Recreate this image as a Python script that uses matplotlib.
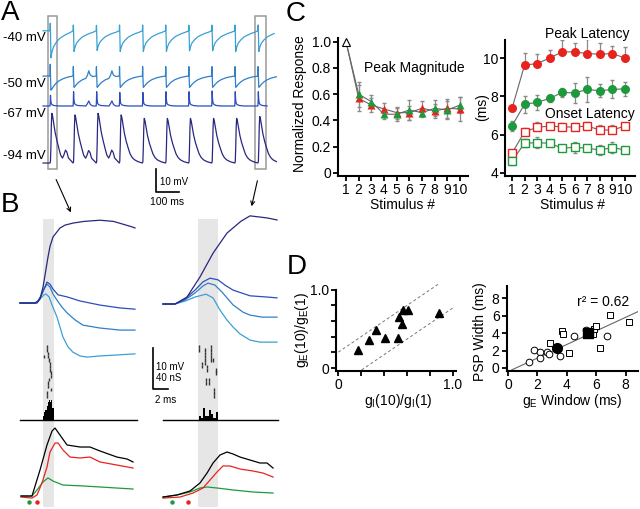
import matplotlib
matplotlib.use('Agg')
import matplotlib.pyplot as plt
from matplotlib.patches import Rectangle, FancyArrowPatch
import numpy as np

plt.rcParams['font.family'] = ['Liberation Sans', 'DejaVu Sans']
plt.rcParams['mathtext.default'] = 'regular'

W, H = 640, 509

# ---------------- A: stimulus trains at four holding potentials ----------------
hold_labels = ['-40 mV', '-50 mV', '-67 mV', '-94 mV']
hold_colors = ['#3aa0d4', '#2f80c8', '#2b4dbd', '#27287f']
a_offsets = [61.4, 41.7, 28.7, 3.9]          # mV, stacking of the traces
n_stim, stim_period, t_start, t_end = 10, 100, -30, 983

# PSP shape after each stimulus (ms, mV)
psp_40 = [(0, 0), (1, 2.5), (2, 0), (4, -9.0), (8, -7.2), (15, -5.4), (26, -4.0),
          (40, -2.7), (55, -1.9), (70, -1.2), (85, -0.7), (100, 0)]
psp_50 = [(0, 0), (1, 4.1), (2, 0.5), (4, -4.9), (8, -4.5), (15, -3.6), (25, -2.6),
          (40, -1.6), (60, -0.8), (80, -0.3), (100, 0)]
psp_50b = [(0, 0), (1, 4.1), (2, 0.5), (4, -4.9), (8, -4.5), (15, -3.6), (25, -2.6),
           (40, -1.6), (55, -1.0), (62, 0.3), (68, 2.3), (74, 0.5), (85, -0.2), (100, 0)]
psp_67 = [(0, 0), (1, 2.0), (2, 6.2), (3.5, 3.0), (6, 1.2), (10, 0.6), (20, 0.2),
          (40, 0), (100, 0)]
psp_67b = [(0, 0), (1, 2.0), (2, 6.2), (3.5, 3.0), (6, 1.2), (10, 0.6), (20, 0.2),
           (55, 0), (62, 1.0), (68, 2.2), (75, 0.6), (85, 0), (100, 0)]
psp_94 = [(0, 0), (2, 0.03), (4, 0.35), (6, 0.8), (8, 1.0), (11, 0.95), (16, 0.8),
          (22, 0.62), (30, 0.45), (38, 0.32), (46, 0.2), (55, 0.12), (65, 0.07),
          (80, 0.03), (100, 0)]
psp_94b = [(0, 0), (2, 0.03), (4, 0.35), (6, 0.8), (8, 1.0), (11, 0.95), (16, 0.8),
           (22, 0.62), (30, 0.45), (38, 0.3), (46, 0.16), (54, 0.1), (60, 0.16),
           (67, 0.26), (73, 0.22), (80, 0.1), (88, 0.06), (100, 0)]
scale_40 = [1.3, 1.0, 0.95, 1.0, 1.0, 1.0, 0.97, 0.97, 1.0, 1.0]
scale_50 = [1.25, 1, 1, 1, 1, 1, 1, 1, 1, 1]
scale_67 = [0.75, 1, 1, 0.95, 0.95, 1, 1, 1.05, 1, 1]
amp_94 = [21.6, 20.9, 21.6, 20.9, 19.4, 19.4, 19.4, 19.4, 19.4, 20.2]

# ---------------- B: single responses, first vs last stimulus ----------------
# depolarising traces (ms, mV deflection), left = stimulus 1, right = stimulus 10
bl_t = [[0, 2, 2.4, 2.8, 3.2, 3.47, 3.87, 4.27, 4.93, 5.73, 6.4, 7.07, 8.0, 8.93, 10.67, 12.67, 15.33],
        [0, 2, 2.4, 2.8, 3.2, 3.6, 4.0, 4.4, 4.93, 5.6, 6.27, 7.33, 8.4, 10.67, 13.33, 15.33],
        [0, 2, 2.4, 2.8, 3.2, 3.6, 4.0, 4.4, 5.07, 6.27, 8.0, 10.67, 13.33, 15.33],
        [0, 2.27, 2.67, 3.07, 3.4, 3.73, 4.0, 4.4, 5.33, 6.0, 7.07, 8.5, 10.67, 12.5, 15.07, 15.33]]
bl_v = [[0, 0, 0.5, 1.2, 2.0, 2.2, 1.5, -0.5, -3.4, -8.3, -10.7, -12.0, -12.9, -13.2, -12.9, -12.7, -12.4],
        [0, 0, 0.5, 1.7, 3.4, 4.6, 3.9, 2.2, 0.7, -1.0, -2.4, -4.1, -5.4, -6.1, -6.6, -6.6],
        [0, 0, 0.5, 1.7, 3.4, 5.1, 4.6, 3.4, 2.0, 1.5, 0.5, -0.5, -1.2, -1.5],
        [0, 0, 1.0, 3.9, 7.5, 11.2, 13.8, 16.1, 18.3, 19.0, 19.5, 19.9, 20.2, 19.9, 18.5, 18.3]]
br_t = [[0, 1.6, 2.93, 4.27, 5.73, 6.67, 7.6, 8.53, 9.33, 10.27, 11.6, 12.93, 15.2],
        [0, 1.6, 2.93, 4.27, 5.33, 6.0, 6.93, 7.87, 9.33, 10.67, 11.6, 13.2, 15.2],
        [0, 1.6, 2.93, 4.27, 5.33, 6.27, 7.33, 8.27, 9.33, 11.6, 13.87, 15.2],
        [0, 1.6, 3.2, 4.93, 6.67, 8.53, 10.4, 11.6, 13.87, 15.2]]
br_v = [[0, 0, 0.7, 1.7, 2.4, 1.5, -1.5, -3.9, -5.6, -7.3, -8.8, -9.3, -9.3],
        [0, 0, 1.0, 2.7, 4.4, 5.1, 4.6, 2.9, -0.2, -2.0, -2.7, -3.2, -3.2],
        [0, 0, 1.2, 3.4, 5.4, 6.3, 5.9, 4.6, 3.4, 2.0, 1.7, 1.5],
        [0, 0, 1.7, 6.6, 12.4, 17.3, 20.2, 21.5, 21.0, 20.5]]

# spike raster rows (ms) and histogram counts
raster_l = [[3.6], [3.65], [3.7], [3.15, 3.7], [3.9], [4.0], [4.0], [4.05], [4.1],
            [4.1], [3.85], [3.8], [3.75], [4.2], [3.65], [3.6]]
raster_r = [[4.84, 6.36], [4.84, 5.6, 6.36], [5.6, 6.36], [5.6, 6.36], [5.6, 6.36, 6.62],
            [5.16, 5.6], [5.16, 5.91], [5.91, 7.07], [7.07], [], [5.73, 6.17],
            [5.73, 6.17], [], [6.8], [6.8], [6.85]]
hist_l_start, hist_l_width = 3.1, 0.15
hist_l = [2, 4, 5, 7, 9, 10, 9, 10, 6, 6]
hist_r_start, hist_r_width = 4.84, 0.27
hist_r = [2, 1, 6, 2, 2, 5, 3, 1, 4]

# conductances (ms, nS): total, inhibitory, excitatory
gl_t = [[0.13, 1.6, 2.67, 3.6, 4.27, 4.67, 5.33, 6.27, 8.0, 9.33, 10.67, 12.93, 14.27, 15.07],
        [0.13, 1.6, 2.27, 2.93, 3.6, 4.0, 4.67, 5.07, 5.73, 6.67, 8.0, 9.33, 10.67, 12.93, 15.07],
        [0.13, 1.6, 2.27, 3.07, 3.73, 4.4, 5.73, 8.4, 10.67, 15.07]]
gl_v = [[0, 0, 25.4, 49.8, 63.4, 66.3, 59.5, 49.8, 47.8, 47.8, 43.9, 38.0, 36.1, 33.2],
        [-1, -2, 1, 12.7, 28.3, 42.9, 51.7, 51.7, 44.9, 38.0, 37.1, 38.0, 33.2, 30.2, 27.3],
        [0, 0, 5.9, 13.7, 17.6, 14.6, 10.7, 9.8, 8.8, 6.8]]
gr_t = [[0, 1.87, 3.6, 4.93, 5.87, 6.67, 7.6, 8.53, 9.33, 10.27, 11.6, 12.93, 13.87, 14.67],
        [0, 2.27, 4.0, 5.33, 6.27, 7.2, 8.0, 8.93, 10.27, 12.0, 13.33, 14.67],
        [0, 1.87, 3.6, 4.93, 5.87, 7.2, 9.33, 12.0, 14.67]]
gr_v = [[-1, 1, 4.9, 12.7, 22.4, 32.2, 40.0, 42.9, 41.0, 38.0, 35.1, 32.2, 32.2, 27.3],
        [-2, -1, 2.9, 7.8, 15.6, 23.4, 29.3, 29.3, 26.3, 24.4, 22.4, 18.5],
        [-1, 1, 3.9, 7.8, 8.8, 7.8, 5.9, 3.9, 2.9]]
g_colors = ['black', '#e8231e', '#1c9a3c']
onset_l = [1.2, 2.27]    # green / red onset dots
onset_r = [1.2, 3.33]
window_l = [3.07, 4.53]
window_r = [4.67, 7.33]

# ---------------- C: responses across the train ----------------
stim = np.arange(1, 11)
mag_red = [1.0, 0.568, 0.517, 0.487, 0.459, 0.459, 0.492, 0.472, 0.492, 0.487]
mag_red_err = [0, 0.10, 0.05, 0.048, 0.045, 0.054, 0.053, 0.054, 0.07, 0.094]
mag_green = [1.0, 0.599, 0.543, 0.447, 0.447, 0.479, 0.459, 0.492, 0.479, 0.517]
mag_green_err = [0, 0.096, 0.05, 0.037, 0.05, 0.074, 0.033, 0.06, 0.07, 0.059]

peak_red = [7.37, 9.63, 9.71, 10.0, 10.32, 10.32, 10.23, 10.2, 10.23, 10.0]
peak_red_err = [0.1, 0.64, 0.52, 0.44, 0.61, 0.44, 0.78, 0.56, 0.4, 0.58]
peak_green = [6.46, 7.59, 7.68, 7.89, 8.2, 8.18, 8.36, 8.29, 8.36, 8.39]
peak_green_err = [0.26, 0.45, 0.4, 0.2, 0.26, 0.52, 0.65, 0.35, 0.47, 0.38]
onset_red = [5.03, 6.15, 6.38, 6.45, 6.40, 6.40, 6.45, 6.24, 6.24, 6.45]
onset_red_err = [0.17, 0.21, 0.29, 0.17, 0.22, 0.19, 0.22, 0.26, 0.26, 0.14]
onset_green = [4.63, 5.55, 5.58, 5.55, 5.29, 5.34, 5.29, 5.2, 5.32, 5.2]
onset_green_err = [0.21, 0.21, 0.3, 0.1, 0.12, 0.28, 0.1, 0.26, 0.29, 0.08]

# ---------------- D: population ----------------
gi_ratio = [0.171, 0.27, 0.328, 0.409, 0.519, 0.53, 0.557, 0.568, 0.609, 0.878]
ge_ratio = [0.23, 0.36, 0.487, 0.38, 0.38, 0.65, 0.56, 0.74, 0.74, 0.70]
band_offsets = [0.2, -0.23]

circ_x = [1.45, 1.77, 2.18, 2.18, 2.67, 2.77, 3.54, 4.49, 5.28, 6.76]
circ_y = [0.73, 2.07, 1.8, 1.11, 1.88, 1.57, 1.38, 3.72, 4.37, 3.72]
sq_x = [2.86, 3.65, 3.76, 4.17, 5.8, 5.87, 5.96, 6.26, 6.94, 8.25]
sq_y = [2.84, 4.25, 3.87, 1.76, 3.91, 4.45, 4.86, 2.26, 6.09, 5.25]
ex_circ = (3.31, 2.26)
ex_sq = (5.42, 3.98)
fit_x = [0.25, 8.86]
fit_y = [-0.23, 6.47]

red, green = '#e8231e', '#1c9a3c'

fig = plt.figure(figsize=(6.4, 5.09), dpi=100)


def px_axes(x0, y0, x1, y1):
    return fig.add_axes([x0 / W, 1 - y1 / H, (x1 - x0) / W, (y1 - y0) / H])


def ftext(x, y, s, **kw):
    fig.text(x / W, 1 - y / H, s, **kw)


# ---- A ----
axA = px_axes(20, 5, 280, 205)
axA.set_xlim(-129.9, 995.7)
axA.set_ylim(-14.35, 72.6)
axA.axis('off')
shapes = [(psp_40, psp_40, (), scale_40), (psp_50, psp_50b, (1, 2), scale_50),
          (psp_67, psp_67b, (1, 2), scale_67), (psp_94, psp_94b, (0, 1, 2), amp_94)]
for i, (shp, shp_b, bumpy, sc) in enumerate(shapes):
    t, v = [t_start], [0.0]
    for k in range(n_stim):
        for dt, dv in (shp_b if k in bumpy else shp):
            if k * stim_period + dt <= t_end:
                t.append(k * stim_period + dt)
                v.append(dv * sc[k])
    axA.plot(t, np.array(v) + a_offsets[i], color=hold_colors[i], lw=0.9)
for x0, x1 in [(-8.7, 30.3), (887, 935)]:
    axA.add_patch(Rectangle((x0, 1.3), x1 - x0, 66.5, fill=False, ec='#9a9a9a', lw=1.1))
axA.plot([459, 459, 559], [1.3, -8.7, -8.7], color='black', lw=1.2)
axA.text(476, -4.5, '10 mV', fontsize=7, va='center')
axA.text(505, -13.2, '100 ms', fontsize=7.5, ha='center', va='center')

for lab, y in zip(hold_labels, [38, 84, 114, 156]):
    ftext(46, y, lab, fontsize=9.5, ha='right', va='center')

# ---- B ----
axBL = px_axes(10, 205, 160, 509)
axBR = px_axes(160, 205, 290, 509)
axBL.set_xlim(-1.333, 18.667)
axBR.set_xlim(-0.4, 16.93)
cols = [(axBL, bl_t, bl_v, 50.24, raster_l, hist_l_start, hist_l_width, hist_l,
         gl_t, gl_v, onset_l, window_l, 15.6),
        (axBR, br_t, br_v, 50.0, raster_r, hist_r_start, hist_r_width, hist_r,
         gr_t, gr_v, onset_r, window_r, 15.33)]
for ax, tt, vv, base, rast, h0, hw, hc, gt, gv, ons, win, tmax in cols:
    ax.set_ylim(0, 74.15)
    ax.axis('off')
    ax.axvspan(win[0], win[1], ymin=0.007, ymax=0.955, color='#e6e6e6', lw=0, zorder=0)
    for i in range(4):
        ax.plot(tt[i], np.array(vv[i]) + base, color=hold_colors[i], lw=0.9)
    for r, times in enumerate(rast):
        ytop = (509 - (345 + r * 3.3)) / 4.1
        ax.vlines(times, ytop - 0.85, ytop, color='#333333', lw=1.0)
    edges = h0 + hw * np.arange(len(hc))
    ax.bar(edges, np.array(hc) * 2 / 4.1, width=hw, bottom=21.7, align='edge',
           color='black', lw=0)
    ax.plot([0, tmax], [21.7, 21.7], color='black', lw=1.0)
    for i in [2, 1, 0]:
        ax.plot(gt[i], np.array(gv[i]) / 4 + 3.17, color=g_colors[i], lw=0.9)
    ax.plot(ons[0], 1.71, 'o', color=green, ms=3.2, mec='none')
    ax.plot(ons[1], 1.71, 'o', color=red, ms=3.2, mec='none')

# B scale bar (10 mV / 40 nS, 2 ms)
axBL.plot([17.73, 17.73, 19.73], [39.27, 29.27, 29.27], color='black', lw=1.2,
          clip_on=False)
ftext(156, 367, '10 mV', fontsize=7, va='center')
ftext(156, 378, '40 nS', fontsize=7, va='center')
ftext(155, 400, '2 ms', fontsize=7, va='center')

for a, b in [((55, 177), (72, 215)), ((258, 178), (251, 209))]:
    fig.add_artist(FancyArrowPatch((a[0] / W, 1 - a[1] / H), (b[0] / W, 1 - b[1] / H),
                                   transform=fig.transFigure, arrowstyle='->',
                                   mutation_scale=7, lw=0.8, color='black'))


def style(ax):
    for s in ['top', 'right']:
        ax.spines[s].set_visible(False)
    for s in ['left', 'bottom']:
        ax.spines[s].set_linewidth(1.5)
    ax.tick_params(width=1.3, length=3.5, labelsize=10, pad=1.5)


# ---- C left: magnitude ----
axC1 = px_axes(338, 37.6, 468, 175.6)
style(axC1)
for vals, err, col in [(mag_red, mag_red_err, red), (mag_green, mag_green_err, green)]:
    axC1.errorbar(stim[1:], vals[1:], yerr=err[1:], fmt='none', ecolor='#8a8a8a',
                  elinewidth=0.9, capsize=1.2, zorder=1)
    axC1.plot(stim, vals, color='#666666', lw=0.8, zorder=2)
    axC1.plot(stim[1:], vals[1:], '^', color=col, ms=6, mec='none', zorder=3)
axC1.plot(1, 1.0, '^', mfc='white', mec='black', mew=0.8, ms=6, zorder=4)
axC1.set_xlim(0.37, 10.63)
axC1.set_ylim(-0.02, 1.03)
axC1.set_xticks(stim)
axC1.set_yticks([0, 0.2, 0.4, 0.6, 0.8, 1.0])
axC1.set_yticklabels(['0', '0.2', '0.4', '0.6', '0.8', '1.0'])
axC1.text(6.4, 0.80, 'Peak Magnitude', fontsize=10, ha='center', va='center')
ftext(403, 205, 'Stimulus #', fontsize=10, ha='center', va='center')
ftext(300, 104, 'Normalized Response', fontsize=10, ha='center', va='center',
      rotation=90)

# ---- C right: latency ----
axC2 = px_axes(505, 40, 635, 176)
style(axC2)
series = [(peak_red, peak_red_err, red, 'o', True, (np.zeros(10), peak_red_err)),
          (peak_green, peak_green_err, green, 'o', True, None),
          (onset_red, onset_red_err, red, 's', False, (np.zeros(10), onset_red_err)),
          (onset_green, onset_green_err, green, 's', False, None)]
for vals, err, col, mk, filled, asym in series:
    axC2.errorbar(stim, vals, yerr=asym if asym is not None else err, fmt='none',
                  ecolor='#8a8a8a', elinewidth=0.9, capsize=1.2, zorder=1)
    axC2.plot(stim, vals, color='#666666', lw=0.8, zorder=2)
    if filled:
        axC2.plot(stim, vals, mk, color=col, ms=6.5, mec='none', zorder=3)
    else:
        axC2.plot(stim, vals, mk, mfc='white', mec=col, mew=1.0, ms=5.5, zorder=3)
axC2.set_xlim(0.44, 10.8)
axC2.set_ylim(3.84, 10.94)
axC2.set_xticks(stim)
axC2.set_yticks([4, 6, 8, 10])
ftext(587, 34, 'Peak Latency', fontsize=10, ha='center', va='center')
ftext(590, 114, 'Onset Latency', fontsize=10, ha='center', va='center')
ftext(572, 205, 'Stimulus #', fontsize=10, ha='center', va='center')
ftext(482, 107, '(ms)', fontsize=10, ha='center', va='center', rotation=90)

# ---- D left: gE vs gI depression ----
axD1 = px_axes(336, 282, 456, 371)
style(axD1)
axD1.set_xlim(-0.017, 1.026)
axD1.set_ylim(-0.038, 1.10)
axD1.spines['left'].set_bounds(-0.038, 1.0)
axD1.plot([0.003, 0.887], [0.003 + band_offsets[0], 0.887 + band_offsets[0]],
          ls=(0, (3, 2.5)), color='#777777', lw=0.7)
axD1.plot([0.206, 1.0], [0.206 + band_offsets[1], 1.0 + band_offsets[1]],
          ls=(0, (3, 2.5)), color='#777777', lw=0.7)
axD1.plot(gi_ratio, ge_ratio, '^', color='black', ms=6)
axD1.set_xticks([0, 0.2, 0.4, 0.6, 0.8, 1.0])
axD1.set_xticklabels(['0', '', '', '', '', '1.0'])
axD1.set_yticks([0, 0.2, 0.4, 0.6, 0.8, 1.0])
axD1.set_yticklabels(['0', '', '', '', '', '1.0'])
ftext(398, 401, 'g$_I$(10)/g$_I$(1)', fontsize=10, ha='center', va='center')
ftext(302, 330, 'g$_E$(10)/g$_E$(1)', fontsize=10, ha='center', va='center',
      rotation=90)

# ---- D right: PSP width vs gE window ----
axD2 = px_axes(506.5, 286, 638, 371)
style(axD2)
axD2.set_xlim(-0.1, 8.85)
axD2.set_ylim(-0.35, 9.4)
axD2.plot(fit_x, fit_y, color='#666666', lw=0.8, zorder=1)
axD2.plot(circ_x, circ_y, 'o', mfc='white', mec='black', mew=0.7, ms=4.8)
axD2.plot(sq_x, sq_y, 's', mfc='white', mec='black', mew=0.7, ms=4.8)
axD2.plot(*ex_circ, 'o', color='black', ms=7)
axD2.plot(*ex_sq, 's', color='black', ms=6.5)
axD2.set_xticks([0, 2, 4, 6, 8])
axD2.set_yticks([0, 2, 4, 6, 8])
ftext(603, 302, 'r\u00b2 = 0.62', fontsize=10, ha='center', va='center')
ftext(572, 401, 'g$_E$ Window (ms)', fontsize=10, ha='center', va='center')
ftext(480, 332, 'PSP Width (ms)', fontsize=10, ha='center', va='center', rotation=90)

# panel letters
for lab, x, y in [('A', 1, 0), ('B', 1, 192), ('C', 286, 1), ('D', 287, 254)]:
    ftext(x, y, lab, fontsize=20, va='top')

fig.savefig('out.png', dpi=100)
